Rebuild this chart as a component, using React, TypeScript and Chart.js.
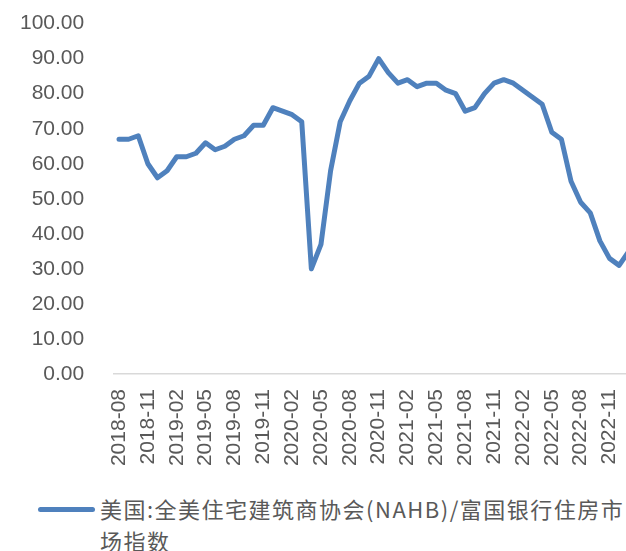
import React, { useEffect, useRef } from "react";
import { Chart, registerables } from "chart.js";

Chart.register(...registerables);

const categories: string[] = [
  "2018-08", "2018-09", "2018-10", "2018-11", "2018-12",
  "2019-01", "2019-02", "2019-03", "2019-04", "2019-05", "2019-06",
  "2019-07", "2019-08", "2019-09", "2019-10", "2019-11", "2019-12",
  "2020-01", "2020-02", "2020-03", "2020-04", "2020-05", "2020-06",
  "2020-07", "2020-08", "2020-09", "2020-10", "2020-11", "2020-12",
  "2021-01", "2021-02", "2021-03", "2021-04", "2021-05", "2021-06",
  "2021-07", "2021-08", "2021-09", "2021-10", "2021-11", "2021-12",
  "2022-01", "2022-02", "2022-03", "2022-04", "2022-05", "2022-06",
  "2022-07", "2022-08", "2022-09", "2022-10", "2022-11", "2022-12",
  "2023-01",
];

const nahbIndex: number[] = [
  67, 67, 68, 60, 56,
  58, 62, 62, 63, 66, 64, 65, 67, 68, 71, 71, 76,
  75, 74, 72, 30, 37, 58, 72, 78, 83, 85, 90, 86,
  83, 84, 82, 83, 83, 81, 80, 75, 76, 80, 83, 84,
  83, 81, 79, 77, 69, 67, 55, 49, 46, 38, 33, 31,
  35,
];

const seriesLabel = "美国:全美住宅建筑商协会(NAHB)/富国银行住房市场指数";
const legendLine1 = "美国:全美住宅建筑商协会(NAHB)/富国银行住房市";
const legendLine2 = "场指数";

const LINE_COLOR = "#4F81BD";
const TEXT_COLOR = "#595959";

export default function App() {
  const canvasRef = useRef<HTMLCanvasElement | null>(null);

  useEffect(() => {
    const canvas = canvasRef.current;
    if (!canvas) return;
    const chart = new Chart(canvas, {
      type: "line",
      data: {
        labels: categories,
        datasets: [
          {
            label: seriesLabel,
            data: nahbIndex,
            borderColor: LINE_COLOR,
            backgroundColor: LINE_COLOR,
            borderWidth: 5,
            pointRadius: 0,
            pointHoverRadius: 0,
            tension: 0,
            borderJoinStyle: "round",
            borderCapStyle: "round",
            fill: false,
          },
        ],
      },
      options: {
        responsive: false,
        animation: false,
        layout: { padding: { top: 22, right: 7, left: 0, bottom: 0 } },
        plugins: {
          legend: { display: false },
          tooltip: { enabled: false },
        },
        scales: {
          x: {
            type: "category",
            offset: true,
            grid: { display: false, drawTicks: false },
            border: { display: true, color: "#D9D9D9", width: 1.5 },
            ticks: {
              autoSkip: false,
              minRotation: 90,
              maxRotation: 90,
              padding: 15,
              color: TEXT_COLOR,
              font: { family: "'Liberation Sans', Arial, sans-serif", size: 21 },
              callback: (_v: any, idx: number) => (idx % 3 === 0 ? categories[idx] : ""),
            },
            afterFit: (scale: any) => {
              scale.height = 101;
            },
          },
          y: {
            min: 0,
            max: 100,
            grid: { display: false, drawTicks: false },
            border: { display: false },
            ticks: {
              stepSize: 10,
              padding: 30,
              color: TEXT_COLOR,
              font: { family: "'Liberation Sans', Arial, sans-serif", size: 21 },
              callback: (v: any) => Number(v).toFixed(2),
            },
            afterFit: (scale: any) => {
              scale.width = 114.2;
            },
          },
        },
      },
    });
    return () => chart.destroy();
  }, []);

  return (
    <div
      style={{
        position: "absolute",
        left: 0,
        top: 0,
        width: 626,
        height: 551,
        overflow: "hidden",
        background: "#ffffff",
      }}
    >
      <canvas
        ref={canvasRef}
        width={669}
        height={494}
        style={{ position: "absolute", left: 0, top: -19, display: "block", width: 669, height: 494 }}
      />
      <div
        style={{
          position: "absolute",
          left: 38,
          top: 507,
          width: 57,
          height: 5,
          borderRadius: 3,
          background: LINE_COLOR,
        }}
      />
      <div
        style={{
          position: "absolute",
          left: 100,
          top: 492,
          width: 560,
          fontFamily: "'Noto Sans CJK SC', sans-serif",
          fontSize: 22,
          lineHeight: "32px",
          letterSpacing: "1.5px",
          color: TEXT_COLOR,
          whiteSpace: "nowrap",
        }}
      >
        {legendLine1}
        <br />
        {legendLine2}
      </div>
    </div>
  );
}
